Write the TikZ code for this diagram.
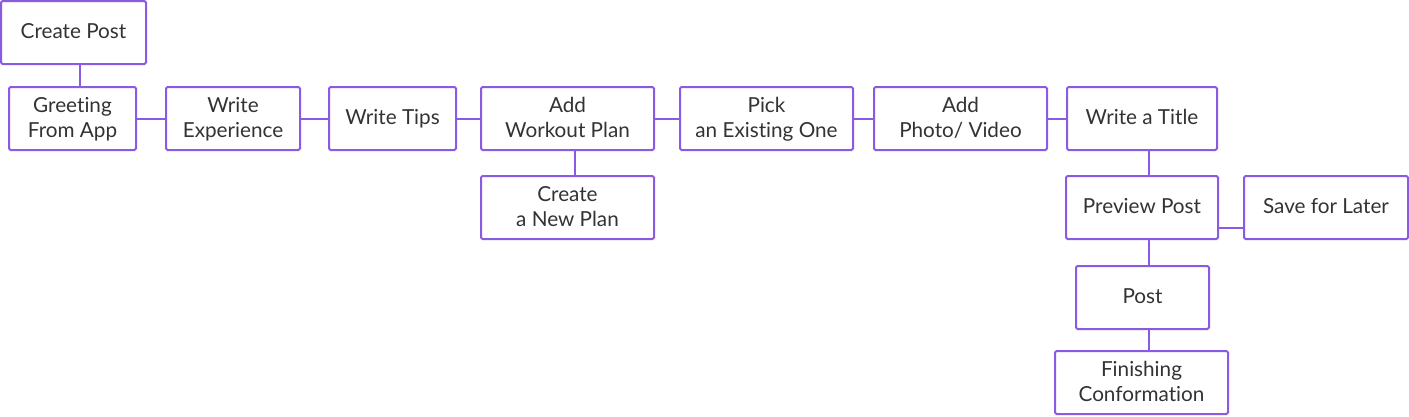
\documentclass[tikz,border=0pt]{standalone}
\usepackage{fontspec}
\setmainfont{Lato}[Ligatures=NoCommon]
\definecolor{boxline}{RGB}{137,90,226}
\definecolor{txt}{RGB}{51,51,51}
\newcommand{\mystrut}{\rule[-6.3pt]{0pt}{25.5pt}}
\begin{document}
\begin{tikzpicture}[x=1pt,y=-1pt,
  box/.style={draw=boxline,line width=2pt,rounded corners=1.5pt,fill=white,
    text=txt,align=center,inner sep=0pt,font=\fontsize{20.7}{25.5}\selectfont},
  link/.style={draw=boxline,line width=2pt}]
\useasboundingbox (0,0) rectangle (1409,416);
\newcommand{\bx}[7]{\node[box,minimum width=#4-#2,minimum height=#5-#3] (#1) at ({(#2+#4)/2},{(#3+#5)/2}) {\mystrut #6\mystrut};}
\bx{cp}{1}{1}{146}{64}{Create Post}{}
\bx{gr}{9}{87}{136}{150}{Greeting\\From App}{}
\bx{we}{166}{87}{300}{150}{Write\\Experience}{}
\bx{wt}{329}{87}{456}{150}{Write Tips}{}
\bx{aw}{481}{87}{654}{150}{Add\\Workout Plan}{}
\bx{pe}{680}{87}{853}{150}{Pick\\an Existing One}{}
\bx{ap}{874}{87}{1047}{150}{Add\\Photo/ Video}{}
\bx{ti}{1067}{87}{1217}{150}{Write a Title}{}
\bx{np}{481}{176}{654}{239}{Create\\a New Plan}{}
\bx{pp}{1066}{176}{1218}{239}{Preview Post}{}
\bx{sl}{1244}{176}{1408}{239}{Save for Later}{}
\bx{po}{1076}{266}{1209}{329}{Post}{}
\bx{fc}{1055}{351}{1228}{414}{Finishing\\Conformation}{}
\draw[link] ([xshift=6.5pt]cp.south) -- ([xshift=6.5pt]cp.south |- gr.north);
\draw[link] (gr) -- (we);
\draw[link] (we) -- (wt);
\draw[link] (wt) -- (aw);
\draw[link] (aw) -- (pe);
\draw[link] (pe) -- (ap);
\draw[link] (ap) -- (ti);
\draw[link] ([xshift=7.5pt]aw.south) -- ([xshift=7.5pt]aw.south |- np.north);
\draw[link] ([xshift=7pt]ti.south) -- ([xshift=7pt]ti.south |- pp.north);
\draw[link] ([xshift=7pt]pp.south) -- ([xshift=7pt]pp.south |- po.north);
\draw[link] ([xshift=7pt]pp.south |- po.south) -- ([xshift=7pt]pp.south |- fc.north);
\draw[link] ([yshift=-20.5pt]pp.east) -- ([yshift=-20.5pt]pp.east -| sl.west);
\end{tikzpicture}
\end{document}
